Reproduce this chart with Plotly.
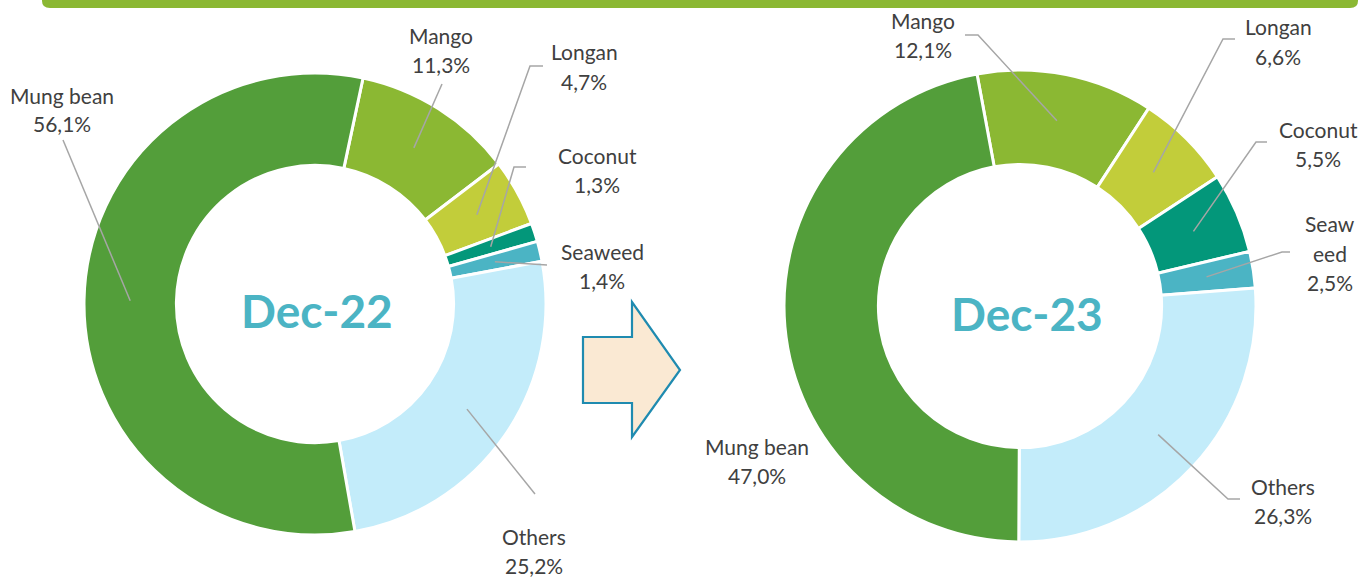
import math
import plotly.graph_objects as go

W, H = 1365, 579

categories = ["Mango", "Longan", "Coconut", "Seaweed", "Others", "Mung bean"]
values_dec22 = [11.3, 4.7, 1.3, 1.4, 25.2, 56.1]
values_dec23 = [12.1, 6.6, 5.5, 2.5, 26.3, 47.0]
label_names_dec22 = ["Mango", "Longan", "Coconut", "Seaweed", "Others", "Mung bean"]
label_names_dec23 = ["Mango", "Longan", "Coconut", "Seaw<br>eed", "Others", "Mung bean"]
period_titles = ["Dec-22", "Dec-23"]

colors = ["#8BB833", "#C2CD3A", "#03977A", "#4BB4C4", "#C3ECFA", "#539E3A"]
FONT = "Lato"
TXT = "#404040"
LINE = "#A6A6A6"


def px(x):
    return x / W


def py(y):
    return 1 - y / H


# pie geometry in pixels (center x, center y, radius, rotation)
pies = [
    dict(cx=315, cy=304, r=231, rot=12, vals=values_dec22, names=label_names_dec22, title=period_titles[0],
         tpos=(317, 311),
         # label center (x, y-of-first-line), leader start, elbow
         labels=[((441, 35), (442, 84), None),
                 ((584, 52), (543, 66), (530, 66)),
                 ((597, 155), (526, 167), (514, 167)),
                 ((602, 251), (547, 265), None),
                 ((534, 536), (535, 494), None),
                 ((62, 95), (63, 140), None)]),
    dict(cx=1020, cy=306, r=236, rot=-10.5, vals=values_dec23, names=label_names_dec23, title=period_titles[1],
         tpos=(1027, 313),
         labels=[((923, 20), (965, 35), (978, 35)),
                 ((1278, 27), (1235, 39), (1223, 39)),
                 ((1318, 129), (1267, 142), (1256, 142)),
                 ((1330, 224), (1290, 252), (1282, 252)),
                 ((1283, 486), (1240, 499), (1228, 499)),
                 ((757, 446), None, None)]),
]

HOLE = 0.6
fig = go.Figure()
annotations = []
shapes = []

# top banner
shapes.append(dict(type="path", xref="paper", yref="paper",
                   path=(f"M {px(42)} {py(-2)} L {px(1358)} {py(-2)} L {px(1358)} {py(1)} "
                         f"Q {px(1358)} {py(8)} {px(1350)} {py(8)} L {px(50)} {py(8)} "
                         f"Q {px(42)} {py(8)} {px(42)} {py(1)} Z"),
                   fillcolor="#8BB833", line=dict(width=0), layer="above"))

for p in pies:
    cx, cy, r = p["cx"], p["cy"], p["r"]
    fig.add_trace(go.Pie(
        labels=categories, values=p["vals"], hole=HOLE, sort=False, direction="clockwise",
        rotation=p["rot"], textinfo="none", hoverinfo="label+percent",
        marker=dict(colors=colors, line=dict(color="white", width=3)),
        domain=dict(x=[px(cx - r), px(cx + r)], y=[py(cy + r), py(cy - r)]),
        showlegend=False))
    annotations.append(dict(x=px(p["tpos"][0]), y=py(p["tpos"][1]), xref="paper", yref="paper",
                            xanchor="center", yanchor="middle",
                            text=f"<b>{p['title']}</b>", showarrow=False,
                            font=dict(family=FONT, size=46, color="#4BB4C4")))
    total = sum(p["vals"])
    cum = 0
    rmid = r * (1 + HOLE) / 2
    for v, name, (lab, start, elbow) in zip(p["vals"], p["names"], p["labels"]):
        mid = p["rot"] + (cum + v / 2) / total * 360
        cum += v
        ex = cx + rmid * math.sin(math.radians(mid))
        ey = cy - rmid * math.cos(math.radians(mid))
        lines = name.split("<br>") + [f"{v:.1f}".replace(".", ",") + "%"]
        for i, t in enumerate(lines):
            annotations.append(dict(x=px(lab[0]), y=py(lab[1] + i * 29), xref="paper", yref="paper",
                                    text=t, showarrow=False, xanchor="center", yanchor="middle",
                                    borderpad=0,
                                    font=dict(family=FONT, size=21, color=TXT)))
        if start is not None:
            pts = [start] + ([elbow] if elbow else []) + [(ex, ey)]
            path = "M " + " L ".join(f"{px(a)} {py(b)}" for a, b in pts)
            shapes.append(dict(type="path", xref="paper", yref="paper", path=path,
                               line=dict(color=LINE, width=1.5), layer="above"))

# arrow between the two donuts
arrow = [(583, 337), (632, 337), (632, 302), (680, 370), (632, 437), (632, 403), (583, 403)]
shapes.append(dict(type="path", xref="paper", yref="paper",
                   path="M " + " L ".join(f"{px(a)} {py(b)}" for a, b in arrow) + " Z",
                   fillcolor="#FAE9D3", line=dict(color="#1F8BB0", width=2.2)))

fig.update_layout(width=W, height=H, margin=dict(l=0, r=0, t=0, b=0),
                  paper_bgcolor="white", plot_bgcolor="white",
                  annotations=annotations, shapes=shapes)
fig.write_html("out.html", config={"displayModeBar": False},
               post_script="document.body.style.margin='0';document.body.style.overflow='hidden';")
